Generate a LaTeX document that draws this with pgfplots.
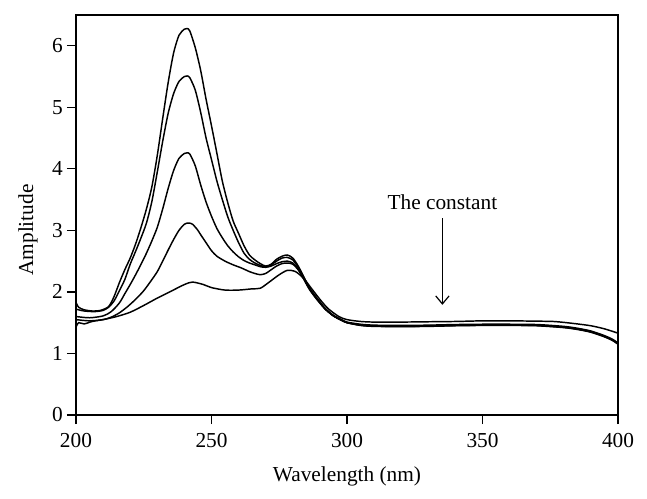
\documentclass[border=0pt]{standalone}
\usepackage{fontspec}
\setmainfont{Liberation Serif}
\usepackage{pgfplots}
\pgfplotsset{compat=1.18}
\usetikzlibrary{arrows.meta,calc}
\begin{document}
\begin{tikzpicture}
\begin{axis}[
  name=ax,
  scale only axis,
  width=406.5pt, height=300pt,
  xmin=200, xmax=400, ymin=0, ymax=6.5,
  xtick={200,250,...,400}, ytick={0,1,...,6},
  tick align=outside, tick pos=left,
  major tick length=6.75pt,
  axis line style={line width=0.9pt},
  every tick/.style={black, line width=0.9pt},
  /pgf/number format/assume math mode=true,
  font=\fontsize{16}{19}\selectfont,
  ticklabel style={font=\fontsize{16}{19}\selectfont},
  xticklabel style={anchor=north, inner sep=0pt, yshift=-6.5pt},
  yticklabel style={anchor=east, inner sep=0pt, xshift=-3pt},
  xlabel={Wavelength (nm)},
  ylabel={Amplitude},
  xlabel style={at={(axis description cs:0.5,0)}, anchor=base, yshift=-49.5pt},
  ylabel style={at={(axis description cs:-0.0886,0.4625)}, anchor=center},
  every axis plot post/.append style={black, mark=none, line width=1.1pt, smooth, tension=0.45},
  clip=false,
]
% A
\addplot coordinates {(200,1.83)(201,1.75)(203,1.71)(206,1.69)(209,1.70)(212,1.76)(214,1.92)(216,2.15)(218,2.36)(220,2.55)(222,2.78)(224,3.05)(226,3.35)(228,3.71)(230,4.22)(232,4.82)(234,5.4)(236,5.88)(238,6.17)(240,6.27)(241,6.28)(242,6.24)(244,5.97)(246,5.6)(248,5.13)(250,4.7)(252,4.25)(254,3.8)(256,3.45)(258,3.15)(260,2.95)(262,2.75)(264,2.6)(266,2.52)(268,2.46)(270,2.42)(272,2.45)(274,2.53)(276,2.58)(278,2.60)(280,2.55)(282,2.42)(284,2.25)(286,2.08)(288,1.95)(290,1.84)(292,1.73)(295,1.62)(298,1.55)(300,1.51)(305,1.475)(310,1.46)(320,1.455)(330,1.46)(340,1.47)(350,1.475)(360,1.475)(370,1.47)(380,1.44)(385,1.41)(390,1.365)(395,1.29)(398,1.23)(400,1.17)};
% B
\addplot coordinates {(200,1.72)(203,1.69)(207,1.68)(210,1.70)(212,1.75)(214,1.85)(216,2.02)(218,2.2)(220,2.45)(222,2.66)(224,2.88)(226,3.12)(228,3.47)(230,3.95)(232,4.45)(234,4.9)(236,5.22)(238,5.42)(240,5.5)(241,5.51)(242,5.48)(244,5.28)(246,4.92)(248,4.5)(250,4.15)(252,3.8)(254,3.5)(256,3.22)(258,3.0)(260,2.8)(262,2.63)(264,2.53)(266,2.47)(268,2.43)(270,2.41)(272,2.44)(274,2.5)(276,2.55)(278,2.56)(280,2.52)(282,2.40)(284,2.24)(286,2.07)(288,1.94)(290,1.83)(292,1.72)(295,1.61)(298,1.54)(300,1.5)(305,1.465)(310,1.45)(320,1.445)(330,1.45)(340,1.46)(350,1.465)(360,1.465)(370,1.46)(380,1.43)(385,1.40)(390,1.355)(395,1.28)(398,1.22)(400,1.16)};
% C
\addplot coordinates {(200,1.60)(205,1.58)(210,1.61)(213,1.68)(216,1.82)(218,1.97)(220,2.12)(222,2.28)(224,2.45)(226,2.63)(228,2.83)(230,3.05)(232,3.35)(234,3.68)(236,3.97)(238,4.17)(240,4.25)(241,4.26)(242,4.24)(244,4.05)(246,3.74)(248,3.46)(250,3.23)(252,3.03)(254,2.88)(256,2.75)(258,2.65)(260,2.57)(262,2.51)(264,2.47)(266,2.44)(268,2.41)(270,2.40)(272,2.42)(274,2.46)(276,2.49)(278,2.50)(280,2.47)(282,2.37)(284,2.22)(286,2.06)(288,1.93)(290,1.82)(292,1.72)(295,1.61)(298,1.54)(300,1.5)(305,1.46)(310,1.445)(320,1.44)(330,1.445)(340,1.455)(350,1.46)(360,1.46)(370,1.455)(380,1.425)(385,1.395)(390,1.35)(395,1.275)(398,1.215)(400,1.155)};
% D
\addplot coordinates {(200,1.55)(205,1.53)(210,1.55)(213,1.59)(216,1.66)(219,1.76)(222,1.88)(225,2.02)(228,2.2)(230,2.33)(232,2.5)(234,2.68)(236,2.85)(238,3.0)(240,3.1)(241.5,3.12)(243,3.1)(245,3.0)(246,2.93)(248,2.8)(250,2.67)(252,2.58)(255,2.5)(258,2.44)(261,2.39)(264,2.33)(266,2.3)(268,2.28)(270,2.3)(272,2.36)(274,2.42)(276,2.46)(278,2.47)(280,2.45)(282,2.36)(284,2.21)(286,2.05)(288,1.93)(290,1.82)(292,1.72)(295,1.61)(298,1.54)(300,1.5)(305,1.455)(310,1.44)(320,1.435)(330,1.44)(340,1.45)(350,1.455)(360,1.455)(370,1.45)(380,1.42)(385,1.39)(390,1.345)(395,1.27)(398,1.21)(400,1.15)};
% E
\addplot coordinates {(200,1.43)(201,1.50)(203,1.48)(206,1.52)(210,1.55)(215,1.60)(220,1.67)(225,1.78)(230,1.90)(235,2.01)(240,2.12)(243,2.16)(247,2.12)(250,2.07)(255,2.03)(260,2.03)(265,2.05)(268,2.06)(271,2.15)(275,2.28)(278,2.35)(281,2.33)(284,2.22)(287,2.05)(290,1.88)(293,1.73)(297,1.6)(300,1.55)(305,1.52)(310,1.51)(320,1.51)(330,1.515)(340,1.52)(350,1.53)(360,1.53)(370,1.525)(376,1.52)(380,1.505)(385,1.48)(390,1.45)(395,1.40)(400,1.33)};
\node[font=\fontsize{16}{19}\selectfont] at (axis cs:335.2,3.46) {The constant};
\draw[line width=0.9pt, -{Straight Barb[length=6pt,width=10pt]}] (axis cs:335.2,3.2) -- (axis cs:335.2,1.79);
\end{axis}
\pgfresetboundingbox
\path ($(ax.south west)+(-57pt,-62.25pt)$) rectangle ($(ax.north east)+(21.75pt,11.25pt)$);
\end{tikzpicture}
\end{document}
